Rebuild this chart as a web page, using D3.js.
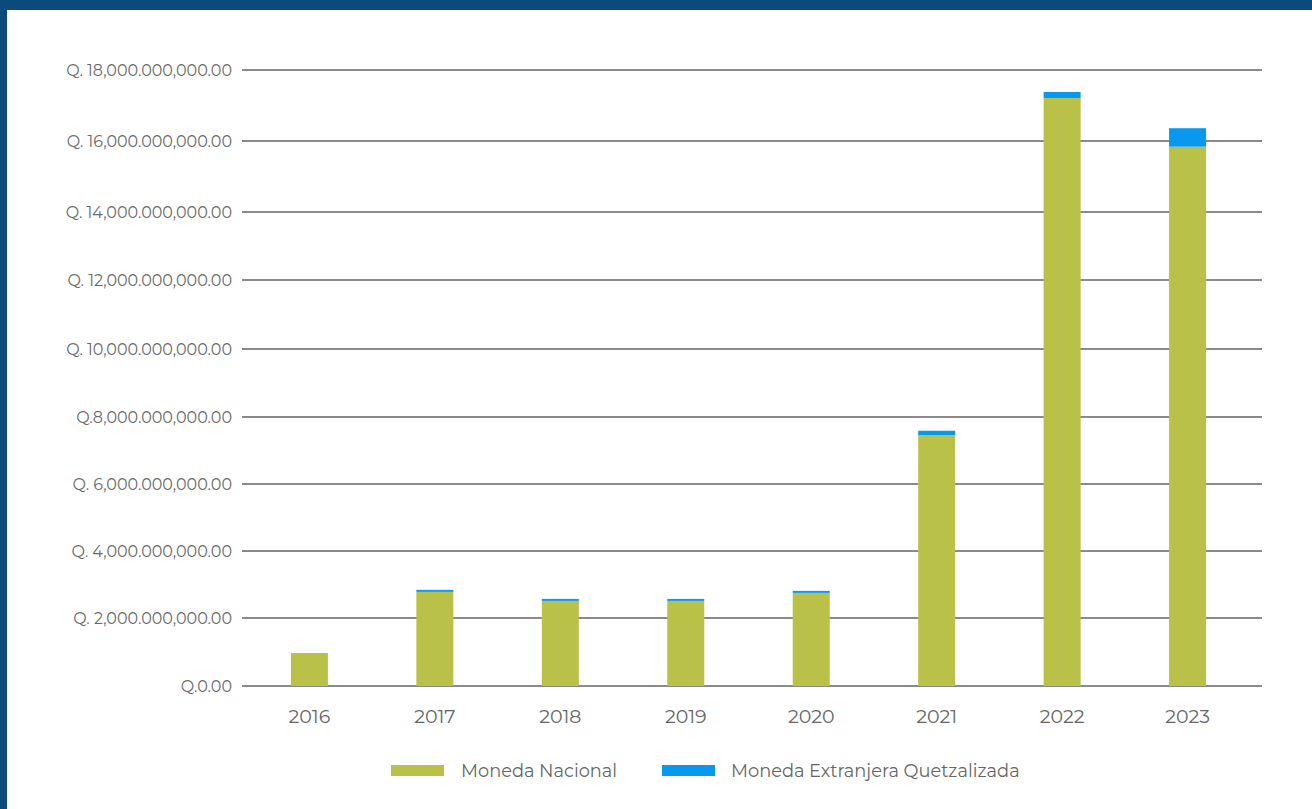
<!DOCTYPE html>
<html>
<head>
<meta charset="utf-8">
<script src="https://cdn.jsdelivr.net/npm/d3@7/dist/d3.min.js"></script>
<style>
html,body{margin:0;padding:0;background:#0b4a7a;}
svg{display:block;}
</style>
</head>
<body>
<svg id="chart" width="1312" height="809"></svg>
<script>
const years = ["2016","2017","2018","2019","2020","2021","2022","2023"];
const monedaNacional = [0.97e9, 2.78e9, 2.51e9, 2.51e9, 2.75e9, 7.46e9, 17.21e9, 15.84e9];
const monedaExtranjera = [0.0, 0.06e9, 0.06e9, 0.06e9, 0.06e9, 0.13e9, 0.17e9, 0.52e9];
const tickValues = [0, 2e9, 4e9, 6e9, 8e9, 10e9, 12e9, 14e9, 16e9, 18e9];
const tickLabels = ["Q.0.00","Q. 2,000.000,000.00","Q. 4,000.000,000.00","Q. 6,000.000,000.00","Q.8,000.000,000.00","Q. 10,000.000,000.00","Q. 12,000.000,000.00","Q. 14,000.000,000.00","Q. 16,000.000,000.00","Q. 18,000.000,000.00"];
const seriesNames = ["Moneda Nacional","Moneda Extranjera Quetzalizada"];
const colors = ["#b9c148","#0898ee"];

const svg = d3.select("#chart");
// white panel
svg.append("rect").attr("x",7).attr("y",10).attr("width",1305).attr("height",799).attr("fill","#ffffff");

const font = "Montserrat, 'Open Sans', 'Noto Sans', sans-serif";
// the source picture's gridlines are slightly unevenly spaced; follow them piecewise
const y = d3.scaleLinear().domain(tickValues).range([686,618,551,484,417,349,280,212,141,70]);
const x = d3.scaleBand().domain(years).range([247,1250]).paddingInner(0.705).paddingOuter(0.35);

// grid
const gridX0 = 242, gridX1 = 1262;
svg.append("g").selectAll("line").data(tickValues).join("line")
  .attr("x1",gridX0).attr("x2",gridX1)
  .attr("y1",d=>y(d)).attr("y2",d=>y(d))
  .attr("stroke","#8a8a8a").attr("stroke-width",2);

// y labels
svg.append("g").selectAll("text").data(tickValues).join("text")
  .attr("x",232).attr("y",d=>y(d)).attr("dy","0.35em")
  .attr("text-anchor","end")
  .attr("font-family",font).attr("font-size",16)
  .attr("fill","#6a6a6a")
  .text((d,i)=>tickLabels[i]);

// stacked bars
const data = years.map((yr,i)=>({year:yr, nac:monedaNacional[i], ext:monedaExtranjera[i]}));
const stack = d3.stack().keys(["nac","ext"]);
const series = stack(data);
svg.append("g").selectAll("g").data(series).join("g")
  .attr("fill",(d,i)=>colors[i])
  .selectAll("rect").data(d=>d).join("rect")
  .attr("x",d=>x(d.data.year))
  .attr("width",x.bandwidth())
  .attr("y",d=>y(d[1]))
  .attr("height",d=>Math.max(0,y(d[0])-y(d[1])));

// x axis labels
svg.append("g").selectAll("text").data(years).join("text")
  .attr("x",d=>x(d)+x.bandwidth()/2).attr("y",716).attr("dy","0.35em")
  .attr("text-anchor","middle")
  .attr("font-family",font).attr("font-size",19)
  .attr("fill","#666666")
  .text(d=>d);

// legend
const legendItems = [{x:391, tx:461},{x:662, tx:731}];
const lg = svg.append("g");
legendItems.forEach((it,i)=>{
  lg.append("rect").attr("x",it.x).attr("y",765).attr("width",53).attr("height",11).attr("fill",colors[i]);
  lg.append("text").attr("x",it.tx).attr("y",771).attr("dy","0.35em")
    .attr("font-family",font).attr("font-size",17.8).attr("fill","#666666")
    .text(seriesNames[i]);
});
</script>
</body>
</html>
